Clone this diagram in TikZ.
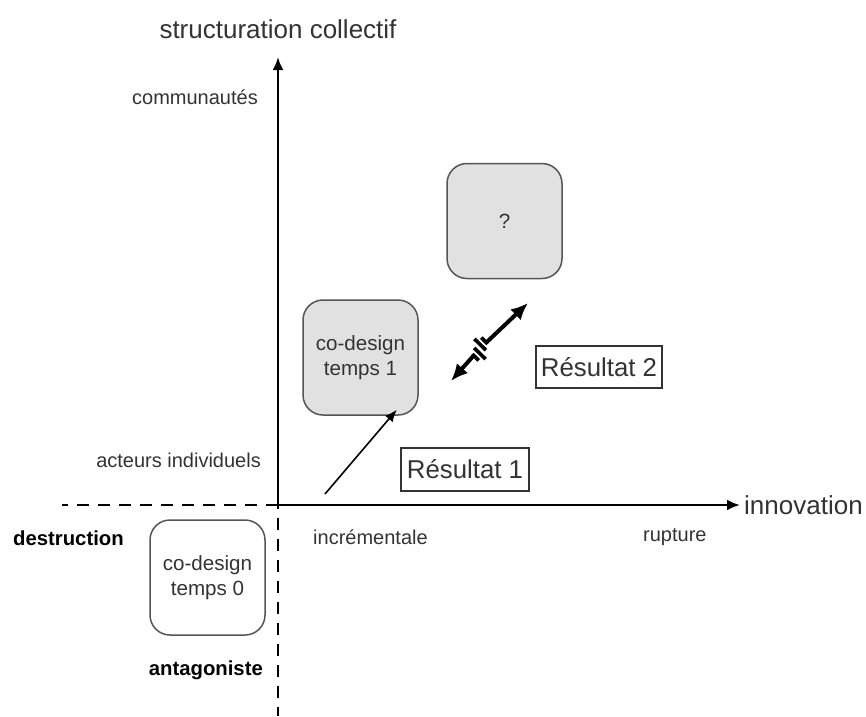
\documentclass[tikz,border=0pt]{standalone}
\usepackage{fontspec}
\setmainfont{Liberation Sans}
\usetikzlibrary{arrows.meta,calc}
\definecolor{txt}{HTML}{333333}
\definecolor{boxline}{HTML}{555555}
\definecolor{boxfill}{HTML}{E1E1E1}
\begin{document}
\begin{tikzpicture}[x=1pt,y=-1pt,
  axis/.style={line width=2.6pt,black},
  dashaxis/.style={line width=2.6pt,black,dash pattern=on 12pt off 9pt},
  biglabel/.style={text=txt,font=\fontsize{26}{30}\selectfont,inner sep=0pt},
  smalllabel/.style={text=txt,font=\fontsize{20}{24}\selectfont,inner sep=0pt},
  boldlabel/.style={text=black,font=\fontsize{20.3}{24}\selectfont\bfseries,inner sep=0pt},
  roundbox/.style={draw=boxline,line width=1.5pt,rounded corners=20pt,minimum width=115pt,minimum height=115pt,align=center,text=txt,font=\fontsize{20.6}{25}\selectfont,inner sep=0pt},
  graybox/.style={roundbox,fill=boxfill},
  resbox/.style={draw=txt,line width=1.4pt,text=txt,font=\fontsize{25.8}{30}\selectfont,inner sep=0pt},
  tip/.style={-{Latex[length=13pt,width=11pt]}},
  thick arrow/.style={line width=4pt,line cap=butt,-{Latex[length=17pt,width=15pt]}},
  breakline/.style={line width=3.6pt,line cap=butt},
]
\useasboundingbox (0,0) rectangle (866,716);
% axes
\coordinate (O) at (278,505);
\coordinate (ytop) at (278,57);
\coordinate (xend) at (740,505);
\coordinate (xleft) at (62,505);
\coordinate (ybot) at (278,716);
\draw[axis,tip] (O) -- (ytop);
\draw[axis,tip] (O) -- (xend);
\draw[dashaxis] (O) -- (xleft);
\draw[dashaxis] ([yshift=8pt]O) -- (ybot);
% axis labels
\node[biglabel] (title) at (278,29) {structuration collectif};
\node[biglabel,anchor=west] (innov) at (744,505) {innovation};
\node[smalllabel,anchor=east] (comm) at (258,97) {communautés};
\node[smalllabel,anchor=east] (acteurs) at (261,460) {acteurs individuels};
\node[smalllabel,anchor=west] (incr) at (313,537) {incrémentale};
\node[smalllabel,anchor=west] (rupt) at (643,537) {rupture};
\node[boldlabel,anchor=west] (destr) at (13,538) {destruction};
\node[boldlabel,anchor=east] (antag) at (263,670) {antagoniste};
% boxes
\node[roundbox] (t0) at (207.5,577.5) {co-design\\temps 0};
\node[graybox] (t1) at (360.5,357.5) {co-design\\temps 1};
\node[graybox] (q) at (504.5,221) {?};
\node[resbox,minimum width=128pt,minimum height=43pt] (r1) at (465,469.5) {Résultat 1};
\node[resbox,minimum width=126pt,minimum height=42pt] (r2) at (599,367) {Résultat 2};
% Résultat 1 arrow
\coordinate (a1s) at (325,494);
\draw[line width=1.6pt,-{Latex[length=12pt,width=10pt]}] (a1s) -- ([shift={(-22pt,6pt)}]t1.south east);
% broken double arrow
\coordinate (c) at (480,349);
\coordinate (dtop) at (528,303);
\coordinate (dbot) at (451,381);
\coordinate (v1) at ($(c)+(6.3,-6.5)$);
\coordinate (v2) at ($(c)+(-6.3,6.5)$);
\draw[thick arrow] (v1) -- (dtop);
\draw[thick arrow] (v2) -- (dbot);
\draw[breakline] ($(v1)+(1.4,1.4)$) -- ($(v1)+(-5,-4.9)$);
\draw[breakline] ($(v2)+(-1.4,-1.4)$) -- ($(v2)+(5,4.9)$);
\coordinate (k1) at ($(c)+(2.3,-2.4)$);
\coordinate (k2) at ($(c)+(-2.3,2.4)$);
\draw[breakline] ($(k1)+(-7.9,-7.7)$) -- ($(k1)+(3.6,3.5)$);
\draw[breakline] ($(k2)+(-3.6,-3.5)$) -- ($(k2)+(7.9,7.7)$);
\end{tikzpicture}
\end{document}
